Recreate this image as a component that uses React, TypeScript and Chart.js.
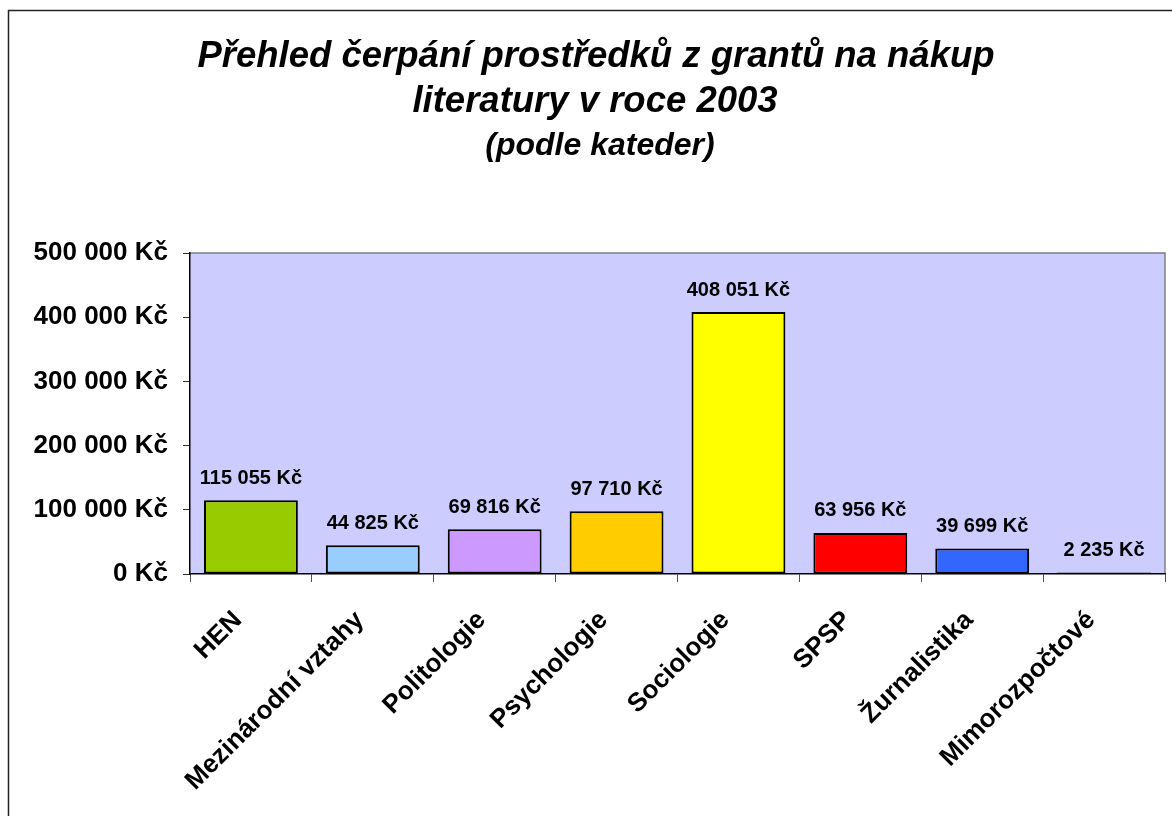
import React, { useEffect, useRef } from "react";
import { Chart, registerables } from "chart.js";

Chart.register(...registerables);

const categories = [
  "HEN",
  "Mezinárodní vztahy",
  "Politologie",
  "Psychologie",
  "Sociologie",
  "SPSP",
  "Žurnalistika",
  "Mimorozpočtové",
];
const values = [115055, 44825, 69816, 97710, 408051, 63956, 39699, 2235];
const barColors = [
  "#99CC00",
  "#99CCFF",
  "#CC99FF",
  "#FFCC00",
  "#FFFF00",
  "#FF0000",
  "#3366FF",
  "#000080",
];
const titleLines = [
  "Přehled čerpání prostředků z grantů na nákup",
  "literatury v roce 2003",
];
const subtitleText = "(podle kateder)";
const yMin = 0;
const yMax = 500000;
const yStep = 100000;

const FONT = "'Liberation Sans', Arial, sans-serif";

function fmtKc(v: number): string {
  return String(Math.round(v)).replace(/\B(?=(\d{3})+(?!\d))/g, " ") + " Kč";
}

const framePlugin = {
  id: "frame",
  beforeDraw(chart: any) {
    const { ctx, chartArea } = chart;
    ctx.save();
    ctx.fillStyle = "#ffffff";
    ctx.fillRect(0, 0, chart.width, chart.height);
    // outer border (left + top)
    ctx.strokeStyle = "#222222";
    ctx.lineWidth = 1.5;
    ctx.beginPath();
    ctx.moveTo(8.5, chart.height);
    ctx.lineTo(8.5, 10.5);
    ctx.lineTo(chart.width, 10.5);
    ctx.stroke();
    // plot background
    ctx.fillStyle = "#CCCCFF";
    ctx.fillRect(
      chartArea.left,
      chartArea.top,
      chartArea.right - chartArea.left,
      chartArea.bottom - chartArea.top
    );
    ctx.strokeStyle = "#808080";
    ctx.lineWidth = 1.5;
    ctx.beginPath();
    ctx.moveTo(chartArea.left, chartArea.top);
    ctx.lineTo(chartArea.right, chartArea.top);
    ctx.lineTo(chartArea.right, chartArea.bottom);
    ctx.stroke();
    // titles
    ctx.fillStyle = "#000000";
    ctx.textAlign = "center";
    ctx.textBaseline = "alphabetic";
    ctx.font = `italic bold 36.5px ${FONT}`;
    ctx.fillText(titleLines[0], 596, 67);
    ctx.fillText(titleLines[1], 595, 112);
    ctx.font = `italic bold 32px ${FONT}`;
    ctx.fillText(subtitleText, 600, 155);
    ctx.restore();
  },
  afterDatasetsDraw(chart: any) {
    const { ctx } = chart;
    const meta = chart.getDatasetMeta(0);
    ctx.save();
    ctx.fillStyle = "#000000";
    ctx.font = `bold 20px ${FONT}`;
    ctx.textAlign = "center";
    ctx.textBaseline = "middle";
    meta.data.forEach((bar: any, i: number) => {
      ctx.fillText(fmtKc(values[i]), bar.x, bar.y - 22);
    });
    ctx.restore();
  },
};

export default function App() {
  const ref = useRef<HTMLCanvasElement | null>(null);

  useEffect(() => {
    if (!ref.current) return;
    const chart = new Chart(ref.current, {
      type: "bar",
      data: {
        labels: categories,
        datasets: [
          {
            data: values,
            backgroundColor: barColors,
            borderColor: "#000000",
            borderWidth: 2,
            borderSkipped: false,
            barPercentage: 0.77,
            categoryPercentage: 1,
          },
        ],
      },
      options: {
        responsive: false,
        animation: false,
        layout: { padding: { top: 253, right: 7, bottom: 0, left: 0 } },
        plugins: {
          legend: { display: false },
          title: { display: false },
          tooltip: { enabled: false },
        },
        scales: {
          x: {
            grid: {
              display: true,
              drawOnChartArea: false,
              drawTicks: true,
              tickLength: 8,
              offset: true,
              color: "#505050",
            },
            border: { display: true, color: "#000000", width: 1.5 },
            ticks: {
              minRotation: 45,
              maxRotation: 45,
              autoSkip: false,
              padding: 23,
              labelOffset: -13,
              color: "#000000",
              font: { family: FONT, size: 26, weight: "bold" },
            },
            afterFit(scale: any) {
              scale.height = 242;
            },
          },
          y: {
            min: yMin,
            max: yMax,
            grid: {
              display: true,
              drawOnChartArea: false,
              drawTicks: true,
              tickLength: 7,
              color: "#303030",
            },
            border: { display: true, color: "#000000", width: 1.5 },
            ticks: {
              stepSize: yStep,
              padding: 15,
              color: "#000000",
              font: { family: FONT, size: 26, weight: "bold" },
              callback: (v: any) => fmtKc(Number(v)),
            },
            afterFit(scale: any) {
              scale.width = 190;
            },
          },
        },
      },
      plugins: [framePlugin],
    });
    return () => chart.destroy();
  }, []);

  return (
    <div
      style={{
        position: "fixed",
        left: 0,
        top: 0,
        width: 1172,
        height: 816,
        background: "#fff",
      }}
    >
      <canvas ref={ref} width={1172} height={816} style={{ display: "block" }} />
    </div>
  );
}
